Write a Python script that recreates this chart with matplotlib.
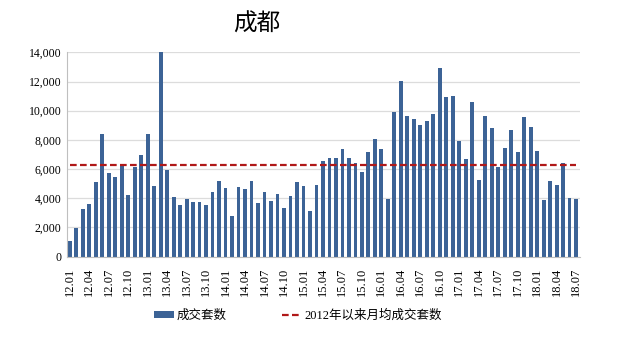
import matplotlib
matplotlib.use("Agg")
import matplotlib.pyplot as plt
import numpy as np

plt.rcParams['font.family'] = ['Liberation Serif', 'Noto Sans CJK SC', 'DejaVu Sans']

# 月份 12.01 - 18.07
months = [f"{y:02d}.{m:02d}" for y in range(12, 19) for m in range(1, 13)][:79]

# 成交套数
deals = [1100, 1950, 3300, 3600, 5100, 8400, 5750, 5450, 6250, 4220, 6170, 6950,
         8400, 4840, 14000, 5940, 4090, 3520, 3930, 3720, 3720, 3520, 4410, 5180,
         4700, 2790, 4800, 4660, 5180, 3650, 4410, 3810, 4290, 3310, 4130, 5140,
         4870, 3150, 4910, 6560, 6740, 6740, 7380, 6780, 6400, 5820, 7170, 8060,
         7380, 3970, 9890, 12040, 9640, 9430, 9000, 9270, 9750, 12950, 10940, 11010,
         7920, 6670, 10570, 5280, 9640, 8790, 6170, 7450, 8680, 7150, 9590, 8860,
         7220, 3900, 5210, 4930, 6440, 4020, 3930]

avg_value = 6270
avg_line = [avg_value] * len(deals)

fig = plt.figure(figsize=(6.19, 3.56), dpi=100)
ax = fig.add_axes([0.108, 0.279, 0.829, 0.574])

x = np.arange(len(deals))
bars = ax.bar(x, deals, width=0.58, color='#3c6396', label='成交套数', zorder=2)
line, = ax.plot(x, avg_line, color='#b01818', linestyle=(0, (3, 1.5)), linewidth=1.6,
                label='2012年以来月均成交套数', zorder=3)

ax.set_ylim(0, 14000)
ax.set_xlim(-0.45, 78.6)
ax.set_yticks(range(0, 14001, 2000))
ax.set_yticklabels([f"{v:,}" for v in range(0, 14001, 2000)], fontsize=8.5)
ax.yaxis.grid(True, color='#dcdcdc', linewidth=0.9, zorder=0)
ax.set_axisbelow(True)

ax.set_xticks(x[::3])
ax.set_xticklabels(months[::3], rotation=90, fontsize=9)
ax.tick_params(axis='both', length=0, pad=4)
ax.tick_params(axis='x', pad=8)

for s in ['top', 'right']:
    ax.spines[s].set_visible(False)
ax.spines['left'].set_color('#bfbfbf')
ax.spines['bottom'].set_color('#bfbfbf')

fig.text(257 / 619, 1 - 24 / 356, '成都', fontsize=17, ha='center', va='center',
         family=['Noto Sans CJK SC'])

fig.legend([bars, line], ['成交套数', '2012年以来月均成交套数'],
           loc='center', bbox_to_anchor=(298 / 619, 1 - 316 / 356), ncol=2,
           frameon=False, fontsize=9, handlelength=1.6, handleheight=0.5,
           columnspacing=4.5, handletextpad=0.2)

fig.savefig('out.png', dpi=100, facecolor='white')
